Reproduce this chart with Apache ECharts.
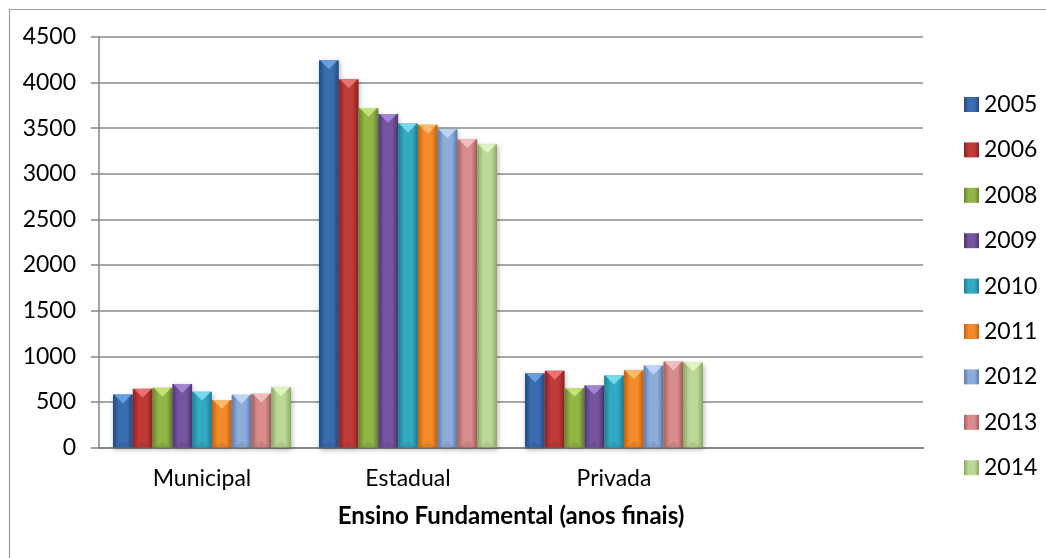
<!DOCTYPE html>
<html>
<head>
<meta charset="utf-8">
<script src="https://cdn.jsdelivr.net/npm/echarts@6/dist/echarts.min.js"></script>
<style>
  html, body { margin: 0; padding: 0; background: #fff; }
  #chart { width: 1046px; height: 558px; }
</style>
</head>
<body>
<div id="chart"></div>
<script>
// Ensino Fundamental (anos finais) — values per network, by year
const categories = ['Municipal', 'Estadual', 'Privada', ''];
const years = ['2005', '2006', '2008', '2009', '2010', '2011', '2012', '2013', '2014'];
const municipal = [580, 645, 655, 695, 612, 522, 577, 590, 660];
const estadual = [4245, 4037, 3722, 3657, 3551, 3537, 3489, 3380, 3325];
const privada = [814, 840, 653, 679, 788, 847, 898, 942, 931];
const yTicks = { min: 0, max: 4500, interval: 500 };

// bevelled bar colours: [edge, middle, top facet]
const palette = [
  ['#234a80', '#3a6db0', '#6fa3e6'],
  ['#8a2222', '#c03a38', '#ee7a78'],
  ['#67852a', '#92b646', '#c8e67c'],
  ['#4e3672', '#7555a0', '#a98bd6'],
  ['#1f7c92', '#33aac4', '#7fdcf0'],
  ['#c0620f', '#f58a2a', '#fcc06e'],
  ['#5d7cab', '#8cacdc', '#c3d8f6'],
  ['#a85e5e', '#d88c8c', '#f4c2c2'],
  ['#8aa864', '#bcd896', '#e4f6c6']
];

const groupGap = 0.136;

function barFill(c) {
  return new echarts.graphic.LinearGradient(0, 0, 1, 0, [
    { offset: 0, color: c[0] },
    { offset: 0.3, color: c[1] },
    { offset: 0.7, color: c[1] },
    { offset: 1, color: c[0] }
  ]);
}

function makeRender(idx) {
  const c = palette[idx];
  return function (params, api) {
    const cat = api.value(0);
    const val = api.value(1);
    const band = api.size([1, 0])[0];
    const groupW = band * (1 - groupGap);
    const barW = groupW / years.length;
    const base = api.coord([cat, 0]);
    const top = api.coord([cat, val]);
    const x = base[0] - groupW / 2 + idx * barW;
    const h = base[1] - top[1];
    const facet = Math.min(barW * 0.45, h);
    return {
      type: 'group',
      children: [
        {
          type: 'rect',
          shape: { x: x, y: top[1], width: barW, height: h },
          style: {
            fill: barFill(c),
            shadowBlur: 5,
            shadowOffsetX: 1,
            shadowOffsetY: 2,
            shadowColor: 'rgba(0,0,0,0.3)'
          }
        },
        {
          type: 'polygon',
          shape: { points: [[x + 1, top[1]], [x + barW - 1, top[1]], [x + barW / 2, top[1] + facet]] },
          style: { fill: c[2], opacity: 0.9 }
        },
        {
          type: 'polygon',
          shape: { points: [[x + 2, base[1]], [x + barW - 2, base[1]], [x + barW / 2, base[1] - facet * 0.7]] },
          style: { fill: 'rgba(0,0,0,0.08)' }
        }
      ]
    };
  };
}

const series = years.map(function (y, i) {
  return {
    name: y,
    type: 'custom',
    renderItem: makeRender(i),
    itemStyle: { color: barFill(palette[i]) },
    encode: { x: 0, y: 1 },
    data: [[0, municipal[i]], [1, estadual[i]], [2, privada[i]]]
  };
});

const font = 'Lato, "Open Sans", sans-serif';
const chart = echarts.init(document.getElementById('chart'));
chart.setOption({
  backgroundColor: '#ffffff',
  animation: false,
  graphic: [{
    type: 'rect',
    shape: { x: 9.5, y: 9.5, width: 1100, height: 700 },
    style: { fill: 'none', stroke: '#9a9a9a', lineWidth: 1.2 },
    silent: true,
    z: -1
  }],
  grid: { left: 99, right: 123, top: 37, bottom: 110.5 },
  legend: {
    orient: 'vertical',
    left: 964,
    top: 93,
    icon: 'rect',
    itemWidth: 15,
    itemHeight: 15,
    itemGap: 22.4,
    padding: 0,
    textStyle: { fontFamily: font, fontSize: 23, color: '#000' },
    data: years
  },
  xAxis: {
    type: 'category',
    data: categories,
    name: 'Ensino Fundamental (anos finais)',
    nameLocation: 'middle',
    nameGap: 69,
    nameTextStyle: { fontFamily: font, fontSize: 24, fontWeight: 'bold', color: '#000', verticalAlign: 'middle' },
    axisLine: { lineStyle: { color: '#868686', width: 2 } },
    axisTick: { show: false },
    axisLabel: { fontFamily: font, fontSize: 23, color: '#000', margin: 20 },
    splitLine: { show: false }
  },
  yAxis: {
    type: 'value',
    min: yTicks.min,
    max: yTicks.max,
    interval: yTicks.interval,
    axisLine: { show: true, lineStyle: { color: '#868686', width: 1.5 } },
    axisTick: { show: true, length: 8, lineStyle: { color: '#868686', width: 1.5 } },
    axisLabel: { fontFamily: font, fontSize: 23, color: '#000', margin: 23, formatter: function (v) { return String(v); } },
    splitLine: { lineStyle: { color: '#8a8a8a', width: 1.5 } }
  },
  series: series
});
</script>
</body>
</html>
